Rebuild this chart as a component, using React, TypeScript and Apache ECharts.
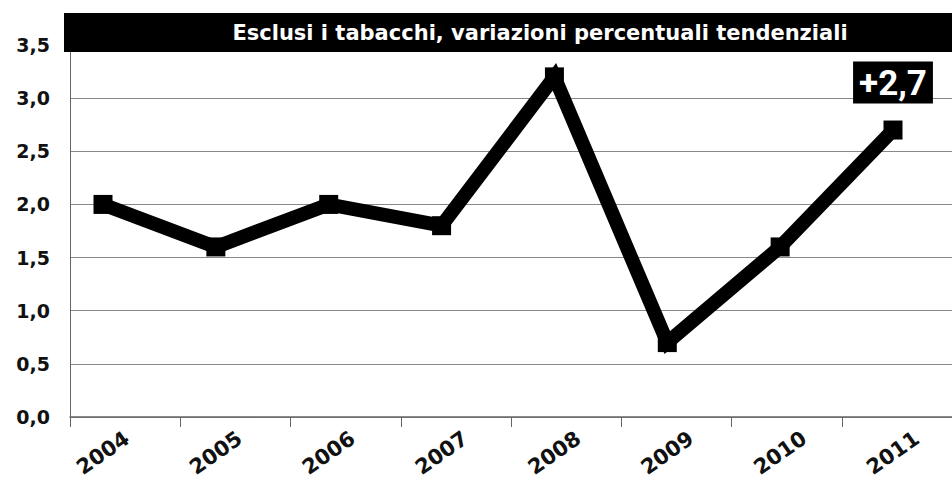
import React, { useEffect, useRef } from "react";
import * as echarts from "echarts";

const years = ["2004", "2005", "2006", "2007", "2008", "2009", "2010", "2011"];
const values = [2.0, 1.6, 2.0, 1.8, 3.2, 0.7, 1.6, 2.7];
const yMin = 0;
const yMax = 3.5;
const yStep = 0.5;
const titleText = "Esclusi i tabacchi, variazioni percentuali tendenziali";
const highlightText = "+2,7";

export default function App() {
  const ref = useRef<HTMLDivElement>(null);
  useEffect(() => {
    if (!ref.current) return;
    const chart = echarts.init(ref.current, null, { renderer: "svg" });
    const last = values.length - 1;
    const labelFont = "DejaVu Sans";
    chart.setOption({
      animation: false,
      backgroundColor: "#ffffff",
      grid: [
        { left: 103, right: 59, top: 45, bottom: 64, containLabel: false, outerBoundsMode: "none" },
        { left: 70, right: 0, top: 45, bottom: 64, containLabel: false, outerBoundsMode: "none" },
      ],
      xAxis: [
        {
          type: "category",
          gridIndex: 0,
          data: years,
          boundaryGap: false,
          axisLine: { show: false },
          axisTick: { show: false },
          splitLine: { show: false },
          axisLabel: {
            rotate: 35,
            align: "center",
            verticalAlign: "middle",
            margin: 36,
            color: "#111",
            fontFamily: labelFont,
            fontWeight: "bold",
            fontSize: 21,
          },
        },
        {
          type: "category",
          gridIndex: 1,
          data: years,
          boundaryGap: true,
          axisLine: { show: true, lineStyle: { color: "#666", width: 1.5 } },
          axisTick: { show: true, length: 10, lineStyle: { color: "#666" } },
          axisLabel: { show: false },
          splitLine: { show: false },
        },
      ],
      yAxis: [
        {
          type: "value",
          gridIndex: 0,
          min: yMin,
          max: yMax,
          interval: yStep,
          show: false,
          splitLine: { show: false },
        },
        {
          type: "value",
          gridIndex: 1,
          min: yMin,
          max: yMax,
          interval: yStep,
          axisLine: { show: true, lineStyle: { color: "#666", width: 1 } },
          axisTick: { show: false },
          splitLine: { show: true, lineStyle: { color: "#888", width: 1 } },
          axisLabel: {
            margin: 20,
            color: "#111",
            fontFamily: labelFont,
            fontWeight: "bold",
            fontSize: 19,
            formatter: (v: number) => v.toFixed(1).replace(".", ","),
          },
        },
      ],
      series: [
        {
          type: "line",
          xAxisIndex: 0,
          yAxisIndex: 0,
          data: values.map((v, i) =>
            i === last
              ? {
                  value: v,
                  label: {
                    show: true,
                    position: "top",
                    distance: 17,
                    formatter: highlightText,
                    backgroundColor: "#000",
                    color: "#fff",
                    fontFamily: "Roboto",
                    fontWeight: "bold",
                    fontSize: 35,
                    lineHeight: 36,
                    padding: [4, 6, 2, 6],
                  },
                }
              : v
          ),
          symbol: "rect",
          symbolSize: 19,
          lineStyle: { color: "#000", width: 14, join: "miter" },
          itemStyle: { color: "#000" },
          z: 5,
        },
      ],
      graphic: [
        {
          type: "rect",
          left: 64,
          top: 13,
          shape: { width: 888, height: 39 },
          style: { fill: "#000" },
          z: 100,
        },
        {
          type: "text",
          x: 540,
          y: 33,
          z: 101,
          style: {
            text: titleText,
            fill: "#fff",
            fontFamily: "DejaVu Sans",
            fontWeight: "bold",
            fontSize: 21,
            textAlign: "center",
            textVerticalAlign: "middle",
            align: "center",
            verticalAlign: "middle",
          },
        },
      ],
    });
    return () => chart.dispose();
  }, []);
  return (
    <div
      ref={ref}
      style={{ position: "fixed", left: 0, top: 0, width: 952, height: 481 }}
    />
  );
}
